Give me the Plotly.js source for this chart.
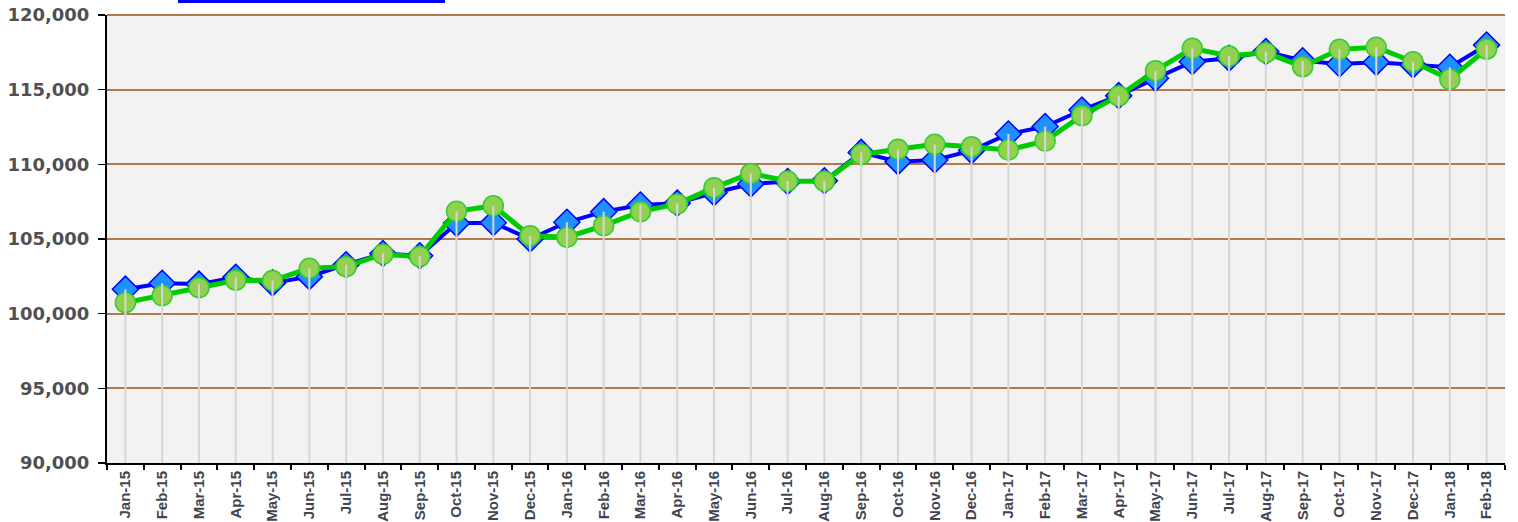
<!DOCTYPE html>
<html>
<head>
<meta charset="utf-8">
<script src="https://cdn.plot.ly/plotly-3.0.1.min.js"></script>
<style>
html,body{margin:0;padding:0;background:#ffffff;}
#chart{width:1518px;height:522px;}
</style>
</head>
<body>
<div id="chart"></div>
<script>
const months = ["Jan-15","Feb-15","Mar-15","Apr-15","May-15","Jun-15","Jul-15","Aug-15","Sep-15","Oct-15","Nov-15","Dec-15",
  "Jan-16","Feb-16","Mar-16","Apr-16","May-16","Jun-16","Jul-16","Aug-16","Sep-16","Oct-16","Nov-16","Dec-16",
  "Jan-17","Feb-17","Mar-17","Apr-17","May-17","Jun-17","Jul-17","Aug-17","Sep-17","Oct-17","Nov-17","Dec-17",
  "Jan-18","Feb-18"];
const blueSeries = [101640,102040,101980,102440,102060,102480,103280,104030,103880,106050,106090,105000,
  106120,106830,107280,107400,108100,108680,108850,108900,110800,110180,110290,110920,
  112030,112530,113640,114600,115760,116870,117100,117550,116940,116720,116830,116650,
  116500,117990];
const greenSeries = [100740,101210,101740,102240,102220,103040,103150,103980,103820,106850,107230,105220,
  105120,105890,106830,107350,108440,109390,108880,108870,110670,111010,111340,111180,
  110960,111570,113260,114580,116270,117770,117250,117480,116540,117700,117840,116870,
  115690,117720];
const yTicks = [90000,95000,100000,105000,110000,115000,120000];
const yMin = 90000, yMax = 120000;

const topVals = blueSeries.map((v,i)=>Math.max(v, greenSeries[i]));

const traces = [
  {
    x: months, y: blueSeries, type: 'scatter', mode: 'lines+markers', name: 'Series 1',
    line: {color: '#0000ff', width: 4},
    marker: {symbol: 'diamond', size: 20, color: '#1e90ff', line: {color: '#0000ff', width: 1.5}},
    cliponaxis: false
  },
  {
    x: months, y: greenSeries, type: 'scatter', mode: 'lines+markers', name: 'Series 2',
    line: {color: '#00cc00', width: 5},
    marker: {symbol: 'circle', size: 20, color: '#92d050', line: {color: '#33cc33', width: 1.5}},
    cliponaxis: false
  },
  {
    x: months, y: topVals, type: 'scatter', mode: 'markers', name: 'drop',
    marker: {size: 1, opacity: 0},
    error_y: {type: 'data', symmetric: false, array: topVals.map(()=>0),
      arrayminus: topVals.map(v=>v-yMin), color: '#d6d6d6', thickness: 2, width: 0},
    hoverinfo: 'skip'
  }
];

const layout = {
  width: 1518, height: 522,
  margin: {l: 107, r: 13, t: 15, b: 59},
  paper_bgcolor: '#ffffff',
  plot_bgcolor: '#f2f2f2',
  showlegend: false,
  xaxis: {
    type: 'category', range: [-0.5, months.length - 0.5],
    showgrid: false, zeroline: false,
    showline: true, linecolor: '#000000', linewidth: 2,
    ticks: 'outside', tickson: 'boundaries', ticklen: 5, tickcolor: '#000000', tickwidth: 2,
    tickangle: -90,
    tickfont: {family: 'Liberation Sans, Arial, sans-serif', size: 15, color: '#3f4651', weight: 'bold'}
  },
  yaxis: {
    range: [yMin, yMax], tickvals: yTicks, tickformat: ',',
    showgrid: true, gridcolor: '#b5784a', gridwidth: 2,
    zeroline: false,
    showline: true, linecolor: '#000000', linewidth: 2,
    ticks: 'outside', ticklen: 7, tickcolor: '#000000', tickwidth: 1.5,
    ticklabelstandoff: 5,
    tickfont: {family: 'DejaVu Sans, Verdana, sans-serif', size: 18, color: '#505050', weight: 'bold'}
  },
  shapes: [
    {type: 'line', xref: 'paper', yref: 'paper', x0: 0, x1: 1, y0: 1, y1: 1,
     line: {color: '#b5784a', width: 2}, layer: 'below'},
    {type: 'rect', xref: 'paper', yref: 'paper', x0: (178-107)/1398, x1: (445-107)/1398,
     y0: 1.0268, y1: 1.04, fillcolor: '#0000ff', line: {width: 0}}
  ]
};

Plotly.newPlot('chart', traces, layout, {displayModeBar: false, staticPlot: true});
</script>
</body>
</html>
